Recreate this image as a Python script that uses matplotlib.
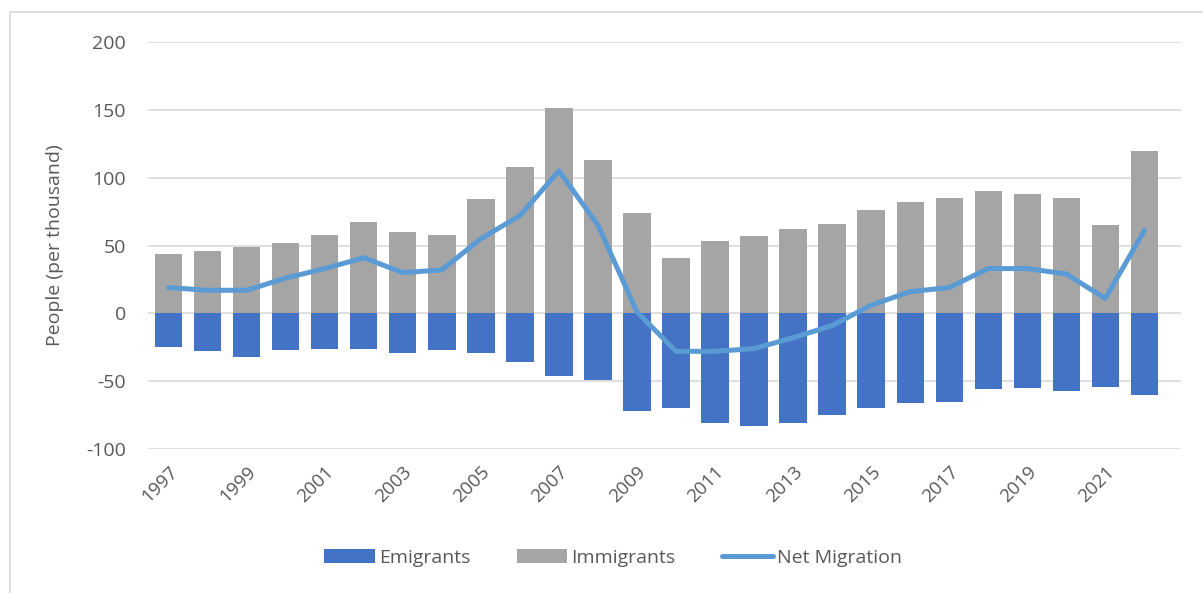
import matplotlib
matplotlib.use("Agg")
import matplotlib.pyplot as plt
from matplotlib.lines import Line2D
import numpy as np

years = list(range(1997, 2023))
immigrants = [44, 46, 49, 52, 58, 67, 60, 58, 84, 108, 151, 113, 74,
              41, 53, 57, 62, 66, 76, 82, 85, 90, 88, 85, 65, 120]
emigrants = [-25, -28, -32, -27, -26, -26, -29, -27, -29, -36, -46, -49, -72,
             -70, -81, -83, -81, -75, -70, -66, -65, -56, -55, -57, -54, -60]
net_migration = [19, 17, 17, 26, 33, 41, 30, 32, 55, 72, 105, 65, 1,
                 -28, -28, -26, -18, -9, 6, 16, 19, 33, 33, 29, 11, 61]

plt.rcParams['font.family'] = ['Open Sans', 'DejaVu Sans']
plt.rcParams['axes.unicode_minus'] = False
text_color = '#595959'

W, H = 1203, 593
fig = plt.figure(figsize=(W / 100, H / 100), dpi=100)
ax = fig.add_axes([148 / W, 1 - 449 / H, (1181 - 148) / W, (449 - 42) / H])

x = np.arange(len(years))
ax.bar(x, emigrants, width=0.7, color='#4472C4', label='Emigrants', zorder=2)
ax.bar(x, immigrants, width=0.7, color='#A5A5A5', label='Immigrants', zorder=2)
ax.plot(x, net_migration, color='#5B9BD5', linewidth=3.6, label='Net Migration',
        solid_capstyle='round', solid_joinstyle='round', zorder=3)

ax.set_ylim(-100, 200)
ax.set_yticks(range(-100, 201, 50))
ax.set_xlim(-0.53, 25.94)
ax.set_xticks(x[::2])
ax.set_xticklabels([str(y) for y in years[::2]], rotation=45, ha='right',
                   rotation_mode='anchor', fontsize=13.5, color=text_color)
ax.tick_params(axis='y', labelsize=14, colors=text_color, length=0, pad=16)
ax.tick_params(axis='x', length=0, pad=10)
ax.grid(axis='y', color='#D9D9D9', linewidth=1.2, zorder=0)
ax.set_axisbelow(True)
for s in ax.spines.values():
    s.set_visible(False)

ax.set_ylabel('People (per thousand)', fontsize=14, color=text_color, labelpad=16)

handles, labels = ax.get_legend_handles_labels()
order = [labels.index('Emigrants'), labels.index('Immigrants'), labels.index('Net Migration')]
fig.legend([handles[i] for i in order], [labels[i] for i in order],
           loc='center', bbox_to_anchor=(613 / W, 1 - 558 / H), ncol=3,
           frameon=False, fontsize=14, labelcolor=text_color,
           handlelength=2.6, handletextpad=0.2, columnspacing=2.4)

# chart border
fig.add_artist(Line2D([10 / W, 10 / W], [0, 1 - 12 / H], transform=fig.transFigure,
                      color='#D9D9D9', linewidth=1.2))
fig.add_artist(Line2D([10 / W, 1], [1 - 12 / H, 1 - 12 / H], transform=fig.transFigure,
                      color='#D9D9D9', linewidth=1.2))

fig.savefig('out.png', dpi=100)
